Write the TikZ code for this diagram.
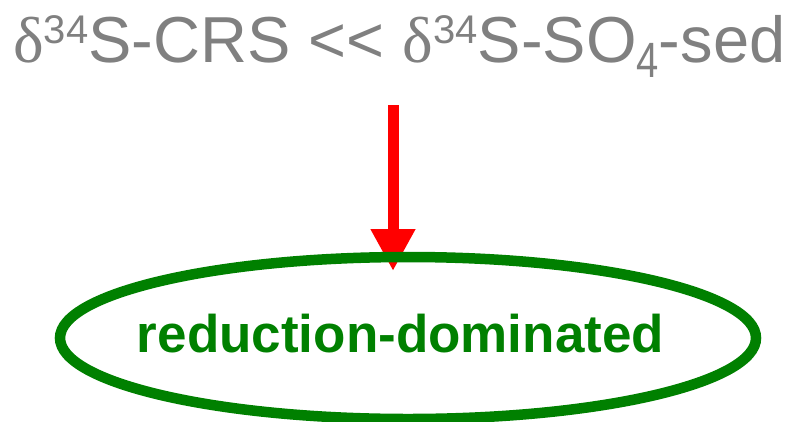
\documentclass[tikz,border=0pt]{standalone}
\usepackage{fontspec}
\setmainfont{Liberation Sans}
\newfontfamily\serifdelta{Liberation Serif}
\usetikzlibrary{shapes.geometric,arrows.meta}
\definecolor{titlegray}{RGB}{128,128,128}
\definecolor{leafgreen}{RGB}{0,128,0}
\definecolor{pure red}{RGB}{255,0,0}
\tikzset{
  headline/.style={text=titlegray, inner sep=0pt, font=\fontsize{65}{70}\selectfont},
  ringnode/.style={ellipse, draw=leafgreen, line width=10.5pt, inner sep=0pt,
                   minimum width=696pt, minimum height=162pt},
  ringtext/.style={text=leafgreen, inner sep=0pt, font=\bfseries\fontsize{53}{58}\selectfont},
  pointer/.style={draw=pure red, line width=11pt,
                  -{Triangle[length=42pt,width=42pt]}}
}
% delta with raised mass number, and the lowered tall subscript
\newcommand{\dsup}{{\serifdelta δ}\raisebox{19pt}{\fontsize{40}{42}\selectfont 34}}
\newcommand{\tallsub}[1]{\raisebox{-15pt}{\scalebox{1}[1.24]{\fontsize{40}{42}\selectfont #1}}}
\begin{document}
\begin{tikzpicture}[x=1pt,y=1pt]
  \useasboundingbox (0,0) rectangle (789,-421);
  % heading
  \node[headline, anchor=base west] (title) at (13,-62)
    {\dsup S-CRS <\kern0pt< \dsup S-SO\tallsub{4}-sed};
  % arrow into the ellipse
  \coordinate (arrowstart) at (393,-105);
  \coordinate (arrowend) at (393,-271);
  \draw[pointer] (arrowstart) -- (arrowend);
  % ellipse with its label
  \node[ringnode] (ring) at (408,-338) {};
  \node[ringtext, anchor=base] (ringlabel) at (400.5,-352) {reduction-dominated};
\end{tikzpicture}
\end{document}
